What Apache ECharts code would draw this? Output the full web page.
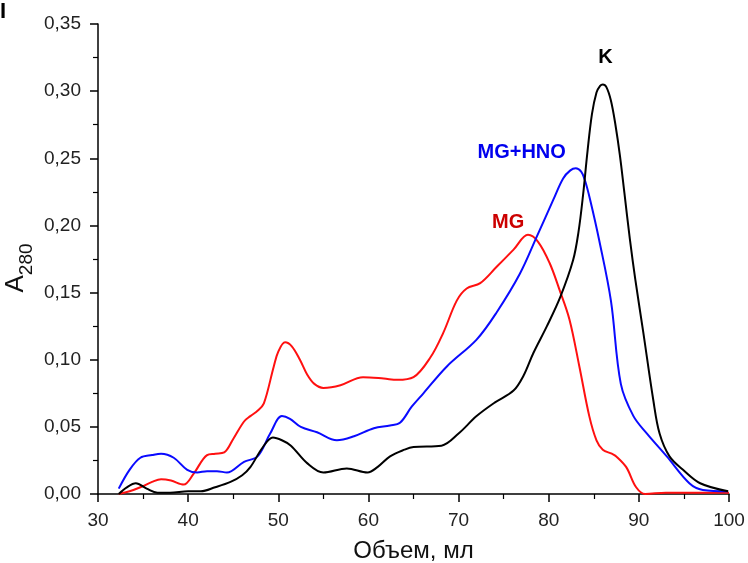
<!DOCTYPE html>
<html>
<head>
<meta charset="utf-8">
<script src="https://cdn.jsdelivr.net/npm/echarts@6/dist/echarts.min.js"></script>
<style>
  html, body { margin: 0; padding: 0; background: #fff; }
  #chart { width: 748px; height: 563px; }
</style>
</head>
<body>
<div id="chart"></div>
<script>
// Elution profiles, absorbance at 280 nm vs. elution volume (ml)
const volK = [32.3, 33.2, 34.2, 35.4, 36.6, 38, 40, 41.4, 43, 44.7, 46, 46.9, 48.3, 49.4, 50.4, 51.4, 53.2, 55.0, 57.6, 59.9, 61, 62.4, 64, 65.0, 68.1, 70, 72.0, 74, 76.1, 77.2, 78.3, 79.8, 81.3, 82.7, 83.3, 83.8, 84.3, 84.8, 85.3, 85.7, 86.0, 86.4, 86.9, 87.4, 87.9, 88.4, 89.0, 89.6, 90.5, 91.6, 92.3, 93.4, 94.9, 96.8, 99.9];
const absK = [0, 0.005, 0.008, 0.004, 0.001, 0.001, 0.002, 0.002, 0.005, 0.009, 0.014, 0.02, 0.035, 0.042, 0.04, 0.036, 0.023, 0.016, 0.019, 0.016, 0.02, 0.028, 0.033, 0.035, 0.036, 0.045, 0.058, 0.068, 0.077, 0.088, 0.105, 0.125, 0.147, 0.174, 0.195, 0.222, 0.255, 0.283, 0.299, 0.304, 0.305, 0.303, 0.293, 0.275, 0.252, 0.224, 0.190, 0.160, 0.120, 0.070, 0.045, 0.028, 0.018, 0.008, 0.002];

const volHNO = [32.3, 33.5, 34.7, 36, 37.0, 38.4, 39.9, 41.0, 42.1, 43.2, 44.3, 46.2, 47.7, 49.1, 50.4, 51.3, 52.5, 54.3, 56.5, 58.4, 60.6, 62.4, 63.5, 64.8, 66.1, 68.7, 72.0, 74.2, 76.8, 78.7, 80.5, 81.6, 82.4, 83.0, 83.6, 84.0, 84.6, 85.6, 86.9, 88.0, 89.4, 90.9, 93.1, 95.6, 97.1, 99.9];
const absHNO = [0.004, 0.018, 0.027, 0.029, 0.030, 0.027, 0.018, 0.016, 0.017, 0.017, 0.016, 0.024, 0.028, 0.045, 0.058, 0.056, 0.050, 0.046, 0.040, 0.043, 0.049, 0.051, 0.053, 0.065, 0.075, 0.095, 0.115, 0.135, 0.164, 0.192, 0.219, 0.235, 0.241, 0.2425, 0.240, 0.234, 0.219, 0.189, 0.144, 0.082, 0.058, 0.045, 0.028, 0.008, 0.003, 0.002];

const volMG = [32.3, 33.5, 34.7, 36, 37.0, 38.1, 39.5, 40.6, 42.1, 43, 44.0, 45, 46.2, 46.9, 47.7, 48.4, 49.5, 50.0, 50.75, 51.5, 52.4, 53.2, 54.0, 55.0, 56.9, 59.4, 61.7, 63.2, 65.0, 66.9, 68.3, 69.8, 70.9, 72.4, 74.2, 76.1, 77.7, 78.8, 80.1, 81.2, 82.3, 83.4, 84.5, 85.3, 86.0, 87.0, 87.5, 88.6, 89.7, 90.7, 93, 96, 100];
const absMG = [0, 0.002, 0.005, 0.009, 0.011, 0.010, 0.007, 0.015, 0.029, 0.030, 0.031, 0.041, 0.054, 0.058, 0.062, 0.0675, 0.095, 0.106, 0.113, 0.110, 0.100, 0.089, 0.082, 0.079, 0.081, 0.087, 0.086, 0.085, 0.087, 0.102, 0.120, 0.144, 0.153, 0.157, 0.169, 0.182, 0.193, 0.188, 0.172, 0.152, 0.130, 0.095, 0.058, 0.040, 0.033, 0.030, 0.028, 0.020, 0.005, 0.0, 0.001, 0.001, 0.001];

// Curve captions and where they sit (data coordinates)
const seriesNames = ['K', 'MG+HNO', 'MG'];
const captionAt = [[86.3, 0.325], [77.0, 0.254], [75.5, 0.2025]];

const xTicks = [30, 40, 50, 60, 70, 80, 90, 100];
const yTicks = [0, 0.05, 0.10, 0.15, 0.20, 0.25, 0.30, 0.35];

const FONT = 'Arial, "Liberation Sans", sans-serif';

function pairs(xs, ys) { return xs.map((x, i) => [x, ys[i]]); }

function curve(name, xs, ys, color, labelColor, at) {
  return {
    name: name,
    type: 'line',
    data: pairs(xs, ys),
    smooth: 0.35,
    showSymbol: false,
    lineStyle: { color: color, width: 2 },
    itemStyle: { color: color },
    z: 3,
    markPoint: {
      symbol: 'circle',
      symbolSize: 1,
      itemStyle: { color: 'transparent' },
      label: {
        show: true,
        position: 'inside',
        formatter: name,
        color: labelColor,
        fontFamily: FONT,
        fontWeight: 'bold',
        fontSize: 20
      },
      data: [{ coord: at }]
    }
  };
}

const chart = echarts.init(document.getElementById('chart'), null, { renderer: 'canvas' });

chart.setOption({
  backgroundColor: '#ffffff',
  animation: false,
  grid: { left: 98, right: 19, top: 24, bottom: 69, containLabel: false, outerBoundsMode: 'none' },
  xAxis: {
    type: 'value',
    min: xTicks[0],
    max: xTicks[xTicks.length - 1],
    interval: 10,
    name: 'Объем, мл',
    nameLocation: 'middle',
    nameGap: 45,
    nameTextStyle: { fontFamily: FONT, fontSize: 24, color: '#111' },
    axisLine: { show: true, onZero: false, lineStyle: { color: '#000', width: 1.5 } },
    axisTick: { show: true, inside: false, length: 8, lineStyle: { color: '#000', width: 1.5 } },
    minorTick: { show: true, splitNumber: 2, length: 5, lineStyle: { color: '#000', width: 1.2 } },
    axisLabel: { fontFamily: FONT, fontSize: 19, color: '#222', margin: 17 },
    splitLine: { show: false }
  },
  yAxis: {
    type: 'value',
    min: yTicks[0],
    max: yTicks[yTicks.length - 1],
    interval: 0.05,
    name: '{a|A}{s|280}',
    nameLocation: 'middle',
    nameRotate: 90,
    nameGap: 69,
    nameMoveOverlap: false,
    nameTextStyle: {
      fontFamily: FONT,
      color: '#111',
      rich: {
        a: { fontFamily: FONT, fontSize: 26, color: '#111', verticalAlign: 'bottom' },
        s: { fontFamily: FONT, fontSize: 19, color: '#111', verticalAlign: 'bottom', padding: [0, 18, -7, 0] }
      }
    },
    axisLine: { show: true, onZero: false, lineStyle: { color: '#000', width: 1.5 } },
    axisTick: { show: true, inside: false, length: 8, lineStyle: { color: '#000', width: 1.5 } },
    minorTick: { show: true, splitNumber: 2, length: 5, lineStyle: { color: '#000', width: 1.2 } },
    axisLabel: {
      fontFamily: FONT, fontSize: 19, color: '#222', margin: 17,
      formatter: v => v.toFixed(2).replace('.', ',')
    },
    splitLine: { show: false }
  },
  graphic: [
    {
      type: 'text',
      left: 0,
      top: 1,
      style: { text: 'I', fontFamily: FONT, fontWeight: 'bold', fontSize: 22, fill: '#000' }
    }
  ],
  series: [
    curve(seriesNames[2], volMG, absMG, '#ff1010', '#cc0000', captionAt[2]),
    curve(seriesNames[1], volHNO, absHNO, '#0a0aff', '#0000ee', captionAt[1]),
    curve(seriesNames[0], volK, absK, '#000000', '#000000', captionAt[0])
  ]
});
</script>
</body>
</html>
